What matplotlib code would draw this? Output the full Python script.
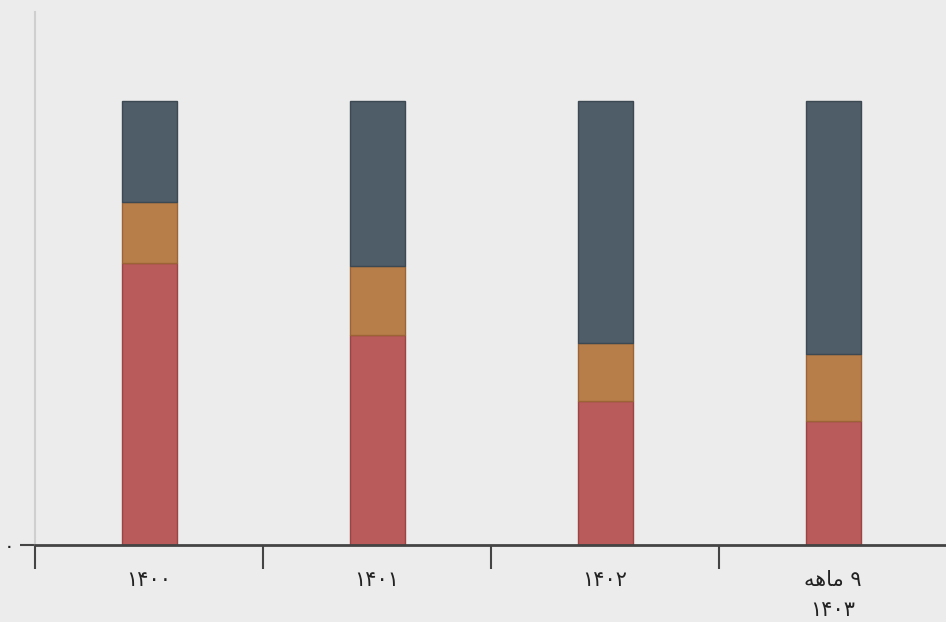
import numpy as np
import matplotlib.pyplot as plt

# Persian labels (visual order, presentation forms since matplotlib does no shaping)
categories = ["۱۴۰۰", "۱۴۰۱", "۱۴۰۲", "\uFEEA\uFEEB\uFE8E\uFEE3 ۹\n۱۴۰۳"]
red_vals = [63.5, 47.3, 32.4, 27.9]
orange_vals = [13.7, 15.5, 13.1, 15.1]
gray_vals = [22.8, 37.2, 54.5, 57.0]

colors = ["#b85b5a", "#b87e4a", "#4f5d68"]
edges = ["#9c4444", "#9c6434", "#3c4852"]

plt.rcParams['font.family'] = ['DejaVu Sans']

fig = plt.figure(figsize=(9.46, 6.22), dpi=100, facecolor="#ececec")
ax = fig.add_axes([35 / 946, 77 / 622, 912 / 946, 533 / 622])
ax.set_facecolor("#ececec")

x = np.arange(len(categories))
w = 55 / 228
bottom = np.zeros(len(categories))
for vals, c, ec in zip([red_vals, orange_vals, gray_vals], colors, edges):
    ax.bar(x, vals, width=w, bottom=bottom, color=c, edgecolor=ec, linewidth=1.0, zorder=3)
    bottom += np.array(vals)

ax.set_xlim(-0.5, 3.5)
ax.set_ylim(0, 120)

for s in ["top", "right"]:
    ax.spines[s].set_visible(False)
ax.spines["left"].set_color("#cfcfcf")
ax.spines["left"].set_linewidth(1.5)
ax.spines["bottom"].set_color("#444444")
ax.spines["bottom"].set_linewidth(2)
ax.spines["bottom"].set_zorder(4)

ax.set_xticks(x)
ax.set_xticklabels(categories, fontsize=15, color="#222222", linespacing=1.6)
ax.tick_params(axis="x", which="major", length=0, pad=18)
ax.set_xticks([-0.5, 0.5, 1.5, 2.5], minor=True)
ax.tick_params(axis="x", which="minor", length=17, width=1.5, color="#444444")

ax.set_yticks([0])
ax.set_yticklabels(["۰"], fontsize=14, color="#222222")
ax.tick_params(axis="y", length=11, width=1.5, color="#444444", pad=4)

fig.savefig("out.png", dpi=100, facecolor=fig.get_facecolor())
